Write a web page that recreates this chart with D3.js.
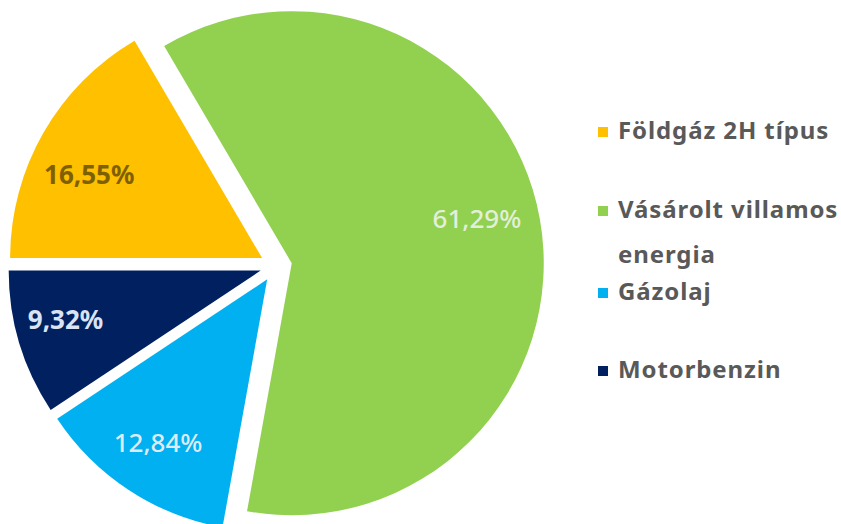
<!DOCTYPE html>
<html>
<head>
<meta charset="utf-8">
<script src="https://cdn.jsdelivr.net/npm/d3@7/dist/d3.min.js"></script>
<style>
  html, body { margin: 0; padding: 0; background: #fff; }
  svg { display: block; }
</style>
</head>
<body>
<svg id="chart" width="841" height="524"></svg>
<script>
const categories = ["Földgáz 2H típus", "Vásárolt villamos energia", "Gázolaj", "Motorbenzin"];
const values = [16.55, 61.29, 12.84, 9.32];
const labels = ["16,55%", "61,29%", "12,84%", "9,32%"];
const legendLines = [["Földgáz 2H típus"], ["Vásárolt villamos", "energia"], ["Gázolaj"], ["Motorbenzin"]];
const colors = ["#FFC000", "#92D050", "#00B0F0", "#002060"];

// styling / layout (not data)
const style = {
  labelColors: ["#7F6000", "#E2EFDA", "#DEEBF7", "#DAE3F3"],
  labelWeights: [700, 500, 500, 700],
  labelAngleShiftDeg: [-4, -3.5, 0.4, 2.8],
  labelRadiusFrac: [0.762, 0.756, 0.78, 0.798]
};

const svg = d3.select("#chart");
const cx = 276, cy = 266, R = 252, explode = 16;
const font = "'Noto Sans', 'DejaVu Sans', sans-serif";

const data = categories.map((c, i) => ({ name: c, value: values[i], i }));
const pie = d3.pie().value(d => d.value).sort(null)
  .startAngle(-Math.PI / 2).endAngle(1.5 * Math.PI);
const arcs = pie(data);
const arc = d3.arc().innerRadius(0).outerRadius(R);

const g = svg.append("g").attr("transform", `translate(${cx},${cy})`);

const slice = g.selectAll("g.slice").data(arcs).join("g")
  .attr("class", "slice")
  .attr("transform", d => {
    const a = (d.startAngle + d.endAngle) / 2;
    return `translate(${explode * Math.sin(a)},${-explode * Math.cos(a)})`;
  });

slice.append("path")
  .attr("d", arc)
  .attr("fill", d => colors[d.data.i]);

slice.append("text")
  .attr("transform", d => {
    const i = d.data.i;
    const a = (d.startAngle + d.endAngle) / 2 + style.labelAngleShiftDeg[i] * Math.PI / 180;
    const r = R * style.labelRadiusFrac[i];
    return `translate(${r * Math.sin(a)},${-r * Math.cos(a)})`;
  })
  .attr("text-anchor", "middle")
  .attr("dy", "0.36em")
  .attr("font-family", font)
  .attr("font-size", 26)
  .attr("font-weight", d => style.labelWeights[d.data.i])
  .attr("fill", d => style.labelColors[d.data.i])
  .text(d => labels[d.data.i]);

// Legend
const legendX = 598;
const rowBaselines = [139, 218, 300, 378];
const lineGap = 45;
const leg = svg.append("g");
legendLines.forEach((lines, i) => {
  const y = rowBaselines[i];
  leg.append("rect")
    .attr("x", legendX).attr("y", y - 12)
    .attr("width", 10).attr("height", 10)
    .attr("fill", colors[i]);
  lines.forEach((t, j) => {
    leg.append("text")
      .attr("x", legendX + 20)
      .attr("y", y + j * lineGap)
      .attr("font-family", font)
      .attr("font-size", 24)
      .attr("font-weight", "bold")
      .attr("letter-spacing", "0.9px")
      .attr("fill", "#595959")
      .text(t);
  });
});
</script>
</body>
</html>
